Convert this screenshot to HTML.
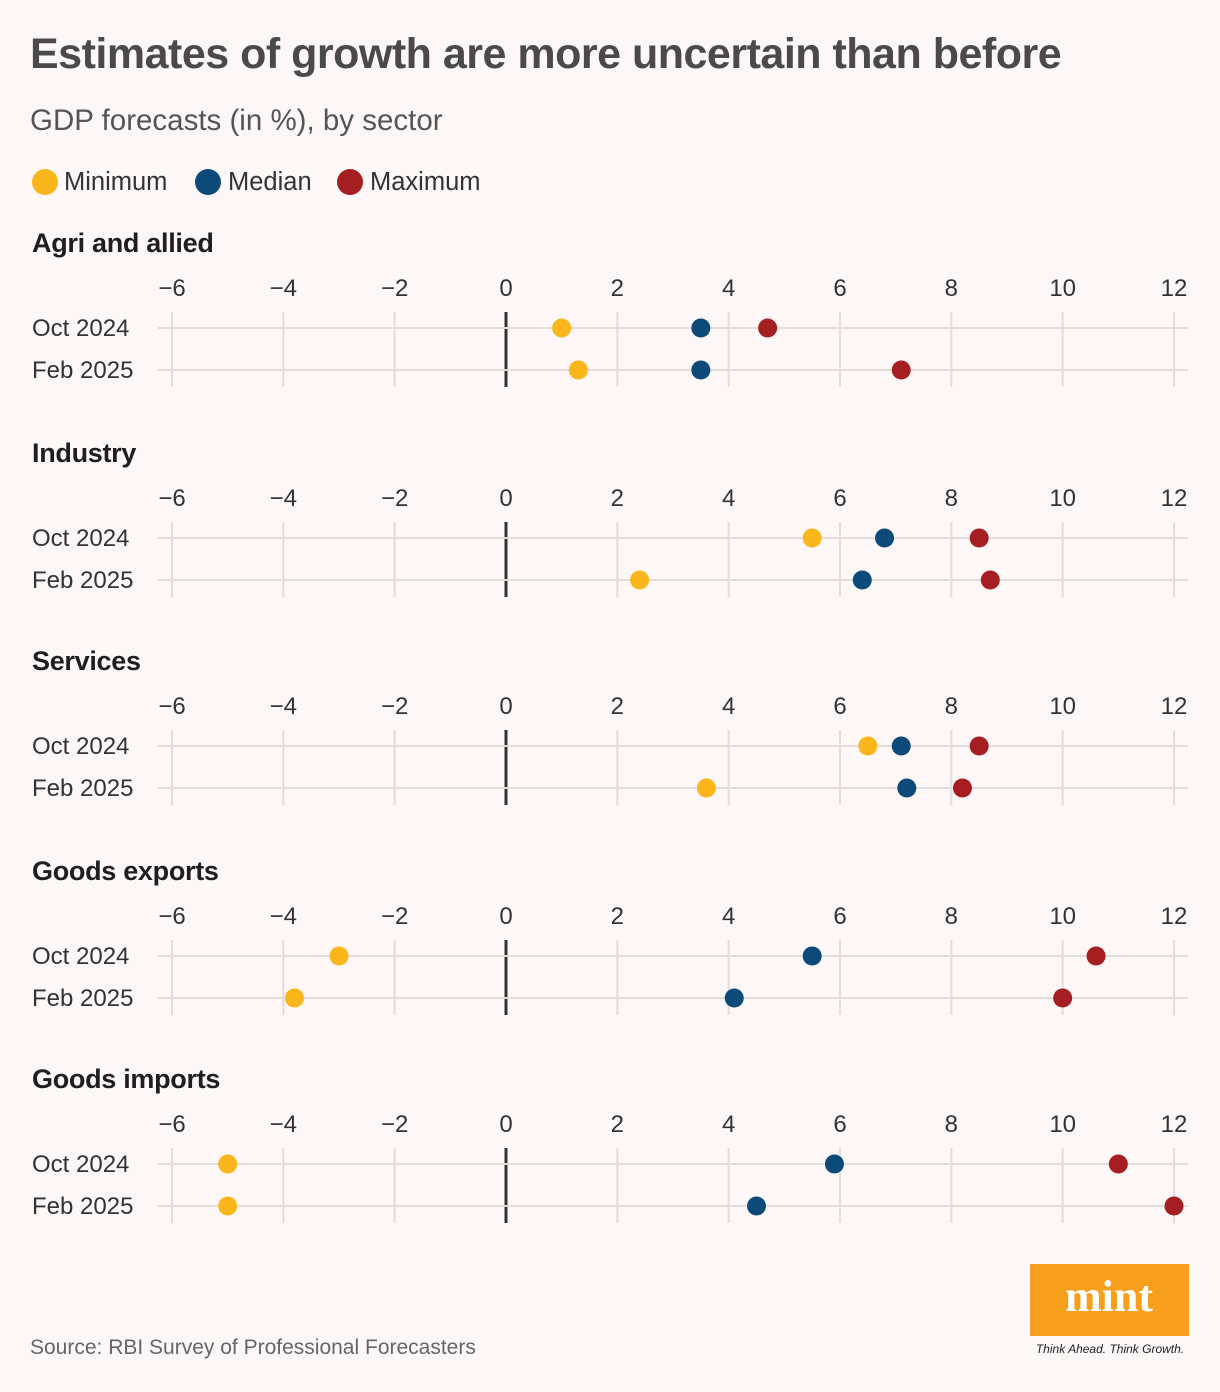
<!DOCTYPE html>
<html><head><meta charset="utf-8"><style>
body{margin:0;background:#fdf8f7;}
svg{display:block;font-family:"Liberation Sans",sans-serif;}
</style></head><body>
<svg id="chart" width="1220" height="1392" viewBox="0 0 1220 1392">
<rect width="1220" height="1392" fill="#fdf8f7"/>
<text x="30" y="68" font-size="43" font-weight="bold" fill="#4a4a4a" letter-spacing="-0.5">Estimates of growth are more uncertain than before</text>
<text x="30" y="130" font-size="29.5" fill="#555">GDP forecasts (in %), by sector</text>
<g>
<circle cx="45" cy="182" r="13" fill="#fbb61b"/>
<text x="64" y="190" font-size="25.5" fill="#333">Minimum</text>
<circle cx="208" cy="182" r="13" fill="#0c4a7a"/>
<text x="228" y="190" font-size="25.5" fill="#333">Median</text>
<circle cx="350" cy="182" r="13" fill="#a51e22"/>
<text x="370" y="190" font-size="25.5" fill="#333">Maximum</text>
</g>
<g id="panels"></g>
<text x="30" y="1354" font-size="21" fill="#666">Source: RBI Survey of Professional Forecasters</text>
<g>
<rect x="1030" y="1264" width="159" height="72" fill="#f99f1e"/>
<text x="1109" y="1311" font-size="44" font-weight="bold" fill="#fff" text-anchor="middle" font-family="Liberation Serif,serif">mint</text>
<text x="1110" y="1353" font-size="12" font-style="italic" fill="#222" text-anchor="middle">Think Ahead. Think Growth.</text>
</g>
</svg>
<script>
const sectors=["Agri and allied","Industry","Services","Goods exports","Goods imports"];
const periods=["Oct 2024","Feb 2025"];
const minimum=[[1.0,1.3],[5.5,2.4],[6.5,3.6],[-3.0,-3.8],[-5.0,-5.0]];
const median=[[3.5,3.5],[6.8,6.4],[7.1,7.2],[5.5,4.1],[5.9,4.5]];
const maximum=[[4.7,7.1],[8.5,8.7],[8.5,8.2],[10.6,10.0],[11.0,12.0]];
const ticks=[-6,-4,-2,0,2,4,6,8,10,12];
const tickLabels=["\u22126","\u22124","\u22122","0","2","4","6","8","10","12"];

const NS="http://www.w3.org/2000/svg";
const xs=v=>172+(v+6)*(1002/18);
const panelTop=[242,452,660,870,1078];
const g=document.getElementById('panels');
function mk(tag,attrs,parent){const e=document.createElementNS(NS,tag);for(const k in attrs)e.setAttribute(k,attrs[k]);parent.appendChild(e);return e;}
sectors.forEach((s,i)=>{
  const t=panelTop[i];
  const p=mk('g',{},g);
  
  
  const ti=mk('text',{x:32,y:t+10,'font-size':27,'font-weight':'bold',fill:'#1f1f1f','letter-spacing':'-0.3'},p);ti.textContent=s;
  
  
  const r0=t+86,r1=t+128;
  ticks.forEach((v,k)=>{
    const l=mk('line',{x1:xs(v),x2:xs(v),y1:t+70,y2:t+145,stroke:v===0?'#333':'#e2dddb','stroke-width':v===0?3:2},p);
    
    
    const tx=mk('text',{x:xs(v),y:t+54,'font-size':24,fill:'#333','text-anchor':'middle'},p);tx.textContent=tickLabels[k];
    
    
  });
  periods.forEach((per,j)=>{
    const y=j?r1:r0;
    const rl=mk('line',{x1:158,x2:1188,y1:y,y2:y,stroke:'#e2dddb','stroke-width':2},p);
    
    
    const lb=mk('text',{x:32,y:y+8,'font-size':24,fill:'#333'},p);lb.textContent=per;
    
    
  });
  [[minimum,'#fbb61b','min'],[median,'#0c4a7a','median'],[maximum,'#a51e22','max']].forEach(([arr,c,n])=>{
    periods.forEach((per,j)=>{
      const d=mk('circle',{cx:xs(arr[i][j]),cy:j?r1:r0,r:9.5,fill:c},p);
      
      
    });
  });
});
</script>
</body></html>
